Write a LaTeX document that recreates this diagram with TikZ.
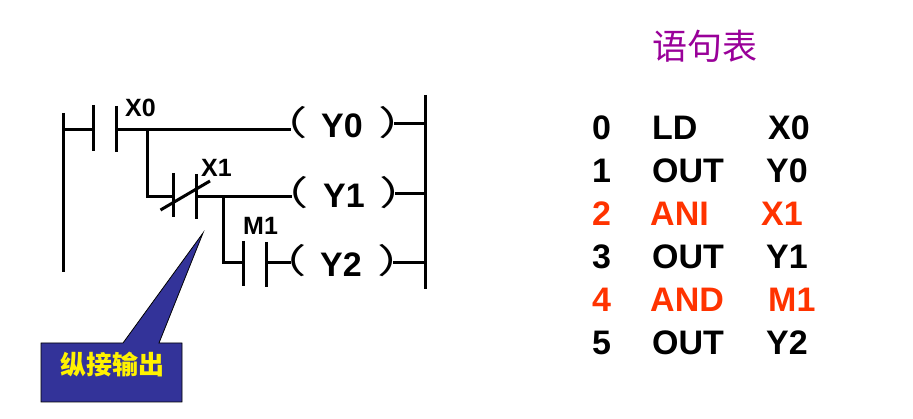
\documentclass[tikz,border=0pt]{standalone}
\usepackage{fontspec}
\usepackage{graphicx}
\setmainfont{Liberation Sans}
\newfontfamily\cjk{Noto Sans CJK SC}
\newcommand{\widepar}[1]{\scalebox{1.45}[1]{#1}}
\definecolor{hot}{HTML}{FF3300}
\definecolor{plum}{HTML}{990099}
\definecolor{navy}{HTML}{333399}
\tikzset{
 wire/.style={line width=3pt,black},
 big/.style={font=\fontsize{34}{34}\selectfont\bfseries,anchor=base west,inner sep=0pt},
 tag/.style={font=\fontsize{25}{25}\selectfont\bfseries,anchor=base west,inner sep=0pt},
 par/.style={font=\cjk\fontsize{34}{34}\selectfont,inner sep=0pt,anchor=center},
 hotrow/.style={big,text=hot},
}
\begin{document}
\begin{tikzpicture}[x=1pt,y=-1pt]
\useasboundingbox (0,0) rectangle (913,419);
% rails
\coordinate (railLa) at (63.5,113); \coordinate (railLb) at (63.5,272);
\coordinate (railRa) at (425.5,95); \coordinate (railRb) at (425.5,289);
\draw[wire] (railLa) -- (railLb);
\draw[wire] (railRa) -- (railRb);
% contact plates
\coordinate (c0at) at (93.5,105); \coordinate (c0ab) at (93.5,151);
\coordinate (c0bt) at (116.5,106); \coordinate (c0bb) at (116.5,152);
\coordinate (c1at) at (173.5,173); \coordinate (c1ab) at (173.5,217);
\coordinate (c1bt) at (196.5,174); \coordinate (c1bb) at (196.5,219);
\coordinate (c2at) at (243.5,241); \coordinate (c2ab) at (243.5,286);
\coordinate (c2bt) at (266.5,242); \coordinate (c2bb) at (266.5,287);
\draw[wire] (c0at) -- (c0ab);
\draw[wire] (c0bt) -- (c0bb);
\draw[wire] (c1at) -- (c1ab);
\draw[wire] (c1bt) -- (c1bb);
\draw[wire] (c2at) -- (c2ab);
\draw[wire] (c2bt) -- (c2bb);
% slash
\coordinate (sa) at (160.5,210); \coordinate (sb) at (210,181);
\draw[wire] (sa) -- (sb);
% coils
\node[par] (l0) at (283,123) {\widepar{（}};
\node[par] (r0) at (403,123) {\widepar{）}};
\node[par] (l1) at (284,193) {\widepar{（}};
\node[par] (r1) at (404.5,193) {\widepar{）}};
\node[par] (l2) at (282,261) {\widepar{（}};
\node[par] (r2) at (402,261) {\widepar{）}};
\node[big] (y0) at (321,138) {Y0};
\node[big] (y1) at (323,208) {Y1};
\node[big] (y2) at (320,277) {Y2};
\coordinate (e0) at (290.5,129.5); \coordinate (e1) at (291.5,196.5); \coordinate (e2) at (291,263);
\coordinate (o0) at (394,124); \coordinate (o1) at (395,194); \coordinate (o2) at (393,263);
% wires
\coordinate (j0) at (147,129.5); \coordinate (j1) at (223,196.5);
\draw[wire] (railLa |- e0) -- (c0at |- e0);
\draw[wire] (c0bt |- e0) -- (e0);
\draw[wire] (j0) -- (j0 |- j1) -- (c1at |- j1);
\draw[wire] (c1bt |- j1) -- (e1);
\draw[wire] (j1) -- (j1 |- e2) -- (c2at |- e2);
\draw[wire] (c2bt |- e2) -- (e2);
\draw[wire] (o0) -- (railRa |- o0);
\draw[wire] (o1) -- (railRa |- o1);
\draw[wire] (o2) -- (railRa |- o2);
% tags
\node[tag] (tx0) at (125,117) {X0};
\node[tag] (tx1) at (201,177) {X1};
\node[tag] (tm1) at (243,235) {M1};
% callout
\fill[navy,draw=black,line width=0.8pt] (41,343) -- (123,343) -- (203,233) -- (159,343) -- (182,343) -- (182,402) -- (41,402) -- cycle;
\node[font=\cjk\bfseries\fontsize{26}{26}\selectfont,text=yellow,inner sep=0pt] (note) at (112,365) {纵接输出};
% statement list
\node[font=\cjk\fontsize{35}{35}\selectfont,text=plum,inner sep=0pt] (title) at (705,46) {语句表};
\node[big] (n0) at (592,140) {0};
\node[big] (a0) at (652,140) {LD};
\node[big] (b0) at (768,140) {X0};
\node[big] (n1) at (592,183) {1};
\node[big] (a1) at (652,183) {OUT};
\node[big] (b1) at (766,183) {Y0};
\node[hotrow] (n2) at (592,226) {2};
\node[hotrow] (a2) at (650,226) {ANI};
\node[hotrow] (b2) at (761,226) {X1};
\node[big] (n3) at (592,269) {3};
\node[big] (a3) at (652,269) {OUT};
\node[big] (b3) at (766,269) {Y1};
\node[hotrow] (n4) at (592,312) {4};
\node[hotrow] (a4) at (650,312) {AND};
\node[hotrow] (b4) at (768,312) {M1};
\node[big] (n5) at (592,355) {5};
\node[big] (a5) at (652,355) {OUT};
\node[big] (b5) at (766,355) {Y2};
\end{tikzpicture}
\end{document}
